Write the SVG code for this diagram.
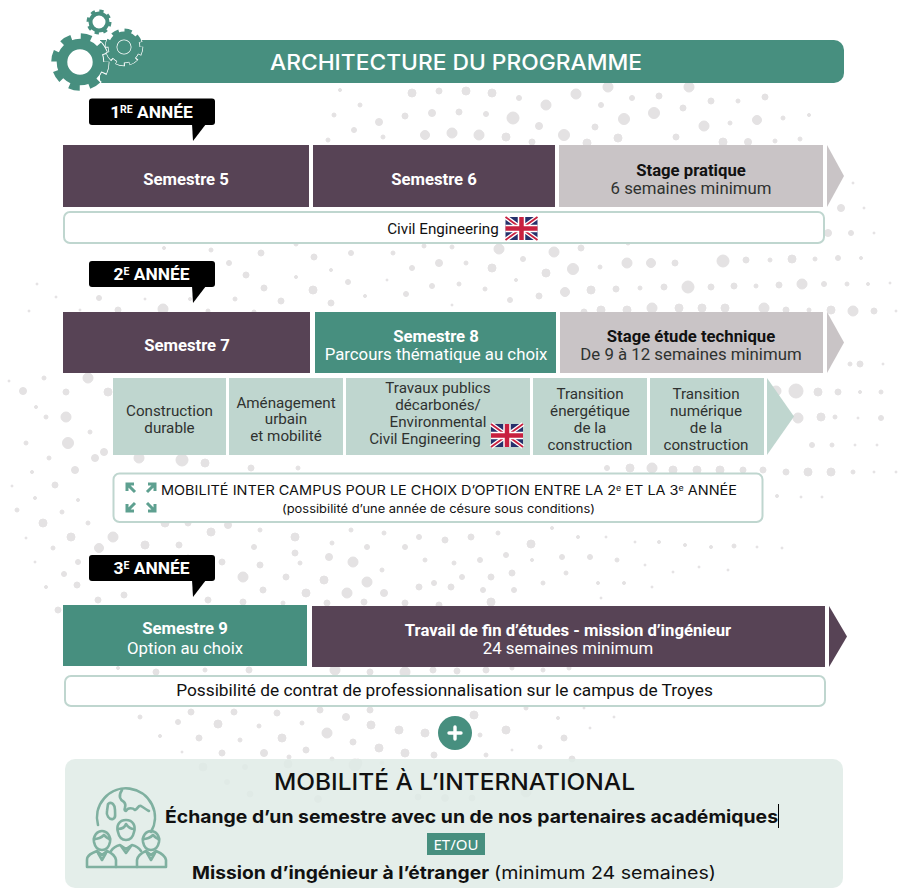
<svg xmlns="http://www.w3.org/2000/svg" xmlns:xlink="http://www.w3.org/1999/xlink" width="906" height="895" viewBox="0 0 906 895">
<style>
text{font-family:Roboto,"Liberation Sans",sans-serif;text-anchor:middle}
.m{font-family:Inter,"Noto Sans","Liberation Sans",sans-serif}
.w{fill:#fff}.k{fill:#111}.d{fill:#2f3230}
.b{font-weight:700}.s15{font-size:16.700px}.s16{font-size:16.800px}.t{font-size:15.200px}.lab{font-size:17.400px}
.pur{fill:#574355}.grn{fill:#478f7f}.gry{fill:#c9c4c6}.tile{fill:#bfd6cf}
.box{fill:#fff;stroke:#bfd6cf;stroke-width:2}
.ic{fill:none;stroke:#5ea090;stroke-width:3}
.gl{fill:none;stroke:#7fb0a0;stroke-width:2.6;stroke-linejoin:round;stroke-linecap:round}
#bg circle{fill:#e4e2e3;stroke:#e4e2e3;stroke-width:1}
</style>
<defs>
<g id="flag">
<rect width="32" height="23" fill="#27306b"/>
<path d="M0 0L32 23M32 0L0 23" stroke="#fff" stroke-width="4.5"/>
<path d="M0 0L32 23M32 0L0 23" stroke="#c8203f" stroke-width="1.8"/>
<path d="M16 0V23M0 11.5H32" stroke="#fff" stroke-width="7.500"/>
<path d="M16 0V23M0 11.5H32" stroke="#c8203f" stroke-width="4.500"/>
</g>
</defs>
<rect width="906" height="895" fill="#fff"/>
<g id="bg">
<circle cx="412" cy="93" r="4"/><circle cx="439" cy="91" r="3"/><circle cx="466" cy="91" r="4"/><circle cx="492" cy="93" r="4"/><circle cx="519" cy="98" r="2.5"/><circle cx="546" cy="105" r="5"/><circle cx="576" cy="94" r="5"/><circle cx="608" cy="87" r="5"/><circle cx="689" cy="87" r="5"/><circle cx="632" cy="98" r="2.5"/><circle cx="601" cy="105" r="2.5"/><circle cx="659" cy="96" r="3"/><circle cx="711" cy="101" r="3"/><circle cx="738" cy="101" r="2"/><circle cx="765" cy="97" r="3"/><circle cx="340" cy="90" r="1.5"/>
<circle cx="360" cy="105" r="2"/><circle cx="334" cy="115" r="2"/><circle cx="379" cy="122" r="3.5"/><circle cx="405" cy="116" r="3"/><circle cx="432" cy="113" r="3.5"/><circle cx="459" cy="112" r="3"/><circle cx="486" cy="114" r="2.5"/><circle cx="513" cy="118" r="6"/><circle cx="539" cy="126" r="3.5"/><circle cx="564" cy="135" r="5.5"/><circle cx="595" cy="127" r="3"/><circle cx="624" cy="119" r="5.5"/><circle cx="654" cy="113" r="5.5"/><circle cx="683" cy="108" r="3"/><circle cx="704" cy="126" r="5"/><circle cx="730" cy="123" r="2"/><circle cx="757" cy="120" r="4.5"/><circle cx="783" cy="118" r="2"/><circle cx="809" cy="115" r="1.5"/>
<circle cx="354" cy="130" r="2.5"/><circle cx="383" cy="137" r="2"/><circle cx="425" cy="135" r="4.5"/><circle cx="452" cy="133" r="5"/><circle cx="479" cy="135" r="5"/><circle cx="506" cy="137" r="4"/><circle cx="532" cy="142" r="3"/><circle cx="618" cy="138" r="4"/><circle cx="587" cy="143" r="4"/><circle cx="676" cy="137" r="3"/><circle cx="723" cy="142" r="4"/><circle cx="748" cy="142" r="3.5"/><circle cx="775" cy="141" r="2"/><circle cx="800" cy="139" r="2"/><circle cx="328" cy="140" r="2"/>
<circle cx="841" cy="208" r="3.5"/><circle cx="864" cy="208" r="1"/><circle cx="828" cy="233" r="3.5"/><circle cx="851" cy="233" r="2.5"/><circle cx="874" cy="233" r="1"/><circle cx="853" cy="183" r="1"/>
<circle cx="164" cy="248" r="1.5"/><circle cx="211" cy="250" r="2"/><circle cx="261" cy="253" r="3"/><circle cx="296" cy="244" r="2"/><circle cx="314" cy="257" r="3"/><circle cx="351" cy="253" r="2.5"/><circle cx="393" cy="253" r="2"/><circle cx="424" cy="246" r="2"/><circle cx="452" cy="247" r="2"/><circle cx="499" cy="249" r="5"/><circle cx="554" cy="252" r="5"/><circle cx="581" cy="248" r="3"/><circle cx="628" cy="243" r="2"/>
<circle cx="229" cy="263" r="2.5"/><circle cx="439" cy="263" r="3.5"/><circle cx="466" cy="263" r="2"/><circle cx="492" cy="268" r="4"/><circle cx="523" cy="259" r="2.5"/><circle cx="546" cy="273" r="4"/><circle cx="573" cy="269" r="5.5"/><circle cx="600" cy="267" r="2"/><circle cx="627" cy="263" r="5"/><circle cx="651" cy="263" r="4.5"/><circle cx="675" cy="263" r="3"/><circle cx="723" cy="261" r="6"/><circle cx="746" cy="260" r="3"/><circle cx="770" cy="260" r="2"/><circle cx="792" cy="259" r="4"/><circle cx="815" cy="259" r="2"/><circle cx="838" cy="258" r="2.5"/><circle cx="861" cy="258" r="1.5"/><circle cx="412" cy="268" r="2.5"/><circle cx="331" cy="270" r="1.5"/>
<circle cx="246" cy="275" r="3"/><circle cx="296" cy="277" r="1.5"/><circle cx="348" cy="282" r="2.5"/><circle cx="387" cy="280" r="1"/><circle cx="432" cy="286" r="2.5"/><circle cx="459" cy="284" r="2"/><circle cx="516" cy="280" r="1.5"/><circle cx="485" cy="289" r="2"/><circle cx="264" cy="288" r="3"/><circle cx="313" cy="290" r="4"/><circle cx="565" cy="292" r="4.5"/><circle cx="591" cy="290" r="4"/><circle cx="616" cy="289" r="3"/><circle cx="640" cy="288" r="2"/><circle cx="664" cy="287" r="3"/><circle cx="688" cy="287" r="6"/><circle cx="711" cy="287" r="3"/><circle cx="734" cy="286" r="3"/><circle cx="756" cy="286" r="2"/><circle cx="779" cy="285" r="3"/><circle cx="802" cy="284" r="5"/><circle cx="824" cy="284" r="2.5"/><circle cx="847" cy="284" r="2"/><circle cx="868" cy="284" r="1.5"/><circle cx="890" cy="283" r="1"/>
<circle cx="37" cy="284" r="1"/><circle cx="99" cy="298" r="2.5"/><circle cx="56" cy="297" r="1"/><circle cx="145" cy="299" r="1"/><circle cx="190" cy="299" r="1.5"/><circle cx="235" cy="299" r="2"/><circle cx="281" cy="301" r="3"/><circle cx="331" cy="303" r="3"/><circle cx="365" cy="296" r="1.5"/><circle cx="406" cy="294" r="2.5"/><circle cx="452" cy="305" r="1"/><circle cx="510" cy="300" r="2.5"/><circle cx="539" cy="296" r="3"/>
<circle cx="29" cy="311" r="1"/><circle cx="80" cy="310" r="1"/><circle cx="118" cy="310" r="3"/><circle cx="163" cy="309" r="5"/><circle cx="208" cy="311" r="2"/><circle cx="254" cy="312" r="2"/><circle cx="584" cy="312" r="3"/><circle cx="601" cy="310" r="4"/><circle cx="627" cy="310" r="4"/><circle cx="652" cy="308" r="5"/><circle cx="679" cy="308" r="4"/><circle cx="702" cy="308" r="4"/><circle cx="725" cy="308" r="4"/><circle cx="764" cy="308" r="5"/><circle cx="786" cy="310" r="3"/><circle cx="809" cy="310" r="2"/><circle cx="831" cy="310" r="4"/><circle cx="853" cy="311" r="5"/><circle cx="874" cy="311" r="3"/><circle cx="896" cy="311" r="1"/>
<circle cx="850" cy="364" r="2"/><circle cx="860" cy="364" r="3"/><circle cx="883" cy="364" r="1"/>
<circle cx="88" cy="378" r="5"/><circle cx="44" cy="378" r="2"/><circle cx="9" cy="381" r="1"/><circle cx="23" cy="391" r="3.5"/><circle cx="66" cy="392" r="3"/><circle cx="108" cy="392" r="4"/><circle cx="36" cy="407" r="1.5"/><circle cx="66" cy="417" r="5"/><circle cx="46" cy="417" r="2"/><circle cx="90" cy="432" r="2"/><circle cx="26" cy="443" r="2"/><circle cx="68" cy="443" r="5.5"/><circle cx="104" cy="452" r="3.5"/><circle cx="49" cy="458" r="2"/><circle cx="95" cy="458" r="3.5"/><circle cx="32" cy="472" r="1.5"/><circle cx="75" cy="470" r="3.5"/><circle cx="12" cy="486" r="1"/><circle cx="55" cy="485" r="3"/><circle cx="35" cy="498" r="1.5"/><circle cx="78" cy="500" r="1.5"/><circle cx="17" cy="510" r="2"/><circle cx="62" cy="512" r="2"/><circle cx="43" cy="523" r="4"/><circle cx="88" cy="523" r="2"/><circle cx="26" cy="538" r="1"/><circle cx="71" cy="537" r="4"/><circle cx="113" cy="537" r="5"/><circle cx="99" cy="548" r="4.5"/><circle cx="53" cy="548" r="2"/><circle cx="145" cy="545" r="4"/><circle cx="35" cy="562" r="1"/><circle cx="78" cy="562" r="2.5"/><circle cx="123" cy="560" r="2"/><circle cx="64" cy="574" r="2.5"/><circle cx="46" cy="587" r="1.5"/><circle cx="77" cy="585" r="3"/><circle cx="124" cy="595" r="3"/><circle cx="98" cy="600" r="3"/>
<circle cx="796" cy="391" r="7"/><circle cx="798" cy="418" r="5"/><circle cx="821" cy="417" r="4"/><circle cx="835" cy="417" r="2"/><circle cx="858" cy="418" r="1"/><circle cx="881" cy="418" r="2.5"/><circle cx="776" cy="391" r="5"/><circle cx="818" cy="392" r="4"/><circle cx="838" cy="392" r="3"/><circle cx="860" cy="392" r="1.5"/><circle cx="881" cy="392" r="2"/><circle cx="812" cy="445" r="2.5"/><circle cx="832" cy="445" r="2"/><circle cx="855" cy="445" r="1"/><circle cx="877" cy="445" r="1"/>
<circle cx="786" cy="472" r="3"/><circle cx="808" cy="472" r="4"/><circle cx="831" cy="472" r="4"/><circle cx="853" cy="472" r="2"/><circle cx="874" cy="472" r="1"/><circle cx="896" cy="472" r="1"/><circle cx="777" cy="496" r="1.5"/><circle cx="801" cy="497" r="1"/><circle cx="822" cy="497" r="1"/>
<circle cx="139" cy="458" r="5"/><circle cx="182" cy="460" r="6"/><circle cx="205" cy="463" r="4"/><circle cx="251" cy="468" r="3"/><circle cx="298" cy="468" r="2"/><circle cx="607" cy="468" r="2.5"/><circle cx="630" cy="468" r="4"/><circle cx="652" cy="468" r="5"/><circle cx="673" cy="470" r="4"/><circle cx="697" cy="470" r="4"/><circle cx="720" cy="470" r="4"/><circle cx="743" cy="470" r="3"/><circle cx="763" cy="470" r="3"/>
<circle cx="228" cy="525" r="3.5"/><circle cx="260" cy="530" r="2"/><circle cx="295" cy="537" r="4"/><circle cx="211" cy="532" r="4"/><circle cx="188" cy="523" r="3"/><circle cx="165" cy="523" r="4"/><circle cx="332" cy="543" r="2"/><circle cx="351" cy="530" r="2"/><circle cx="384" cy="533" r="2"/><circle cx="419" cy="537" r="2.5"/><circle cx="445" cy="540" r="3"/><circle cx="471" cy="537" r="3"/><circle cx="498" cy="533" r="2"/><circle cx="531" cy="544" r="4"/><circle cx="552" cy="528" r="1.5"/><circle cx="578" cy="537" r="1.5"/><circle cx="606" cy="537" r="1"/><circle cx="635" cy="542" r="1"/><circle cx="659" cy="542" r="1.5"/><circle cx="685" cy="545" r="1.5"/><circle cx="711" cy="547" r="1.5"/><circle cx="734" cy="546" r="2"/><circle cx="757" cy="547" r="1"/><circle cx="782" cy="548" r="1"/>
<circle cx="179" cy="545" r="3"/><circle cx="254" cy="547" r="2.5"/><circle cx="295" cy="553" r="3"/><circle cx="329" cy="557" r="3.5"/><circle cx="367" cy="547" r="2.5"/><circle cx="405" cy="547" r="2.5"/><circle cx="260" cy="565" r="3"/><circle cx="222" cy="562" r="3"/><circle cx="188" cy="557" r="2"/><circle cx="300" cy="563" r="2"/><circle cx="353" cy="562" r="5"/><circle cx="382" cy="570" r="2"/><circle cx="425" cy="560" r="2"/><circle cx="454" cy="563" r="2"/><circle cx="480" cy="560" r="2.5"/><circle cx="506" cy="555" r="2.5"/><circle cx="532" cy="560" r="1.5"/><circle cx="562" cy="557" r="2.5"/><circle cx="590" cy="557" r="2.5"/><circle cx="617" cy="560" r="2"/><circle cx="645" cy="565" r="1"/><circle cx="673" cy="572" r="1"/><circle cx="699" cy="567" r="1"/><circle cx="728" cy="570" r="1"/>
<circle cx="243" cy="577" r="5"/><circle cx="286" cy="577" r="3"/><circle cx="324" cy="580" r="4"/><circle cx="367" cy="582" r="5"/><circle cx="434" cy="583" r="2.5"/><circle cx="462" cy="577" r="2.5"/><circle cx="491" cy="577" r="3"/><circle cx="512" cy="573" r="3"/><circle cx="543" cy="583" r="2"/><circle cx="566" cy="573" r="2"/><circle cx="598" cy="583" r="1.5"/><circle cx="624" cy="583" r="1.5"/><circle cx="652" cy="587" r="1"/>
<circle cx="263" cy="590" r="3"/><circle cx="306" cy="593" r="4"/><circle cx="347" cy="593" r="5"/><circle cx="384" cy="593" r="3.5"/><circle cx="419" cy="587" r="3"/><circle cx="451" cy="587" r="3"/><circle cx="483" cy="590" r="2.5"/><circle cx="514" cy="590" r="2.5"/><circle cx="208" cy="600" r="3"/><circle cx="243" cy="602" r="3"/><circle cx="283" cy="603" r="2"/><circle cx="327" cy="603" r="3"/><circle cx="364" cy="602" r="3"/><circle cx="405" cy="603" r="3"/><circle cx="439" cy="605" r="3"/><circle cx="491" cy="602" r="4"/><circle cx="601" cy="598" r="1"/><circle cx="58" cy="610" r="3"/>
<circle cx="118" cy="668" r="1.5"/><circle cx="156" cy="672" r="3"/><circle cx="205" cy="670" r="2"/><circle cx="249" cy="670" r="3"/><circle cx="335" cy="670" r="5"/><circle cx="370" cy="672" r="3"/><circle cx="405" cy="672" r="5"/><circle cx="433" cy="670" r="3"/><circle cx="457" cy="671" r="3"/><circle cx="486" cy="670" r="3"/><circle cx="512" cy="668" r="2"/><circle cx="543" cy="670" r="2"/><circle cx="569" cy="668" r="2"/>
<circle cx="140" cy="717" r="2"/><circle cx="178" cy="722" r="2.5"/><circle cx="218" cy="724" r="4"/><circle cx="259" cy="726" r="2"/><circle cx="302" cy="723" r="2"/><circle cx="346" cy="717" r="3.5"/><circle cx="327" cy="733" r="5"/><circle cx="371" cy="725" r="4"/><circle cx="399" cy="730" r="4"/><circle cx="425" cy="733" r="4"/><circle cx="282" cy="738" r="4"/><circle cx="199" cy="738" r="3"/><circle cx="160" cy="736" r="1.5"/><circle cx="240" cy="740" r="2"/><circle cx="306" cy="750" r="3"/><circle cx="353" cy="742" r="3"/><circle cx="379" cy="748" r="4"/><circle cx="405" cy="753" r="4"/><circle cx="434" cy="755" r="3"/><circle cx="486" cy="755" r="2"/><circle cx="512" cy="750" r="1"/><circle cx="540" cy="747" r="2"/><circle cx="564" cy="738" r="3"/><circle cx="558" cy="718" r="1.5"/><circle cx="590" cy="728" r="1"/><circle cx="614" cy="717" r="1"/><circle cx="506" cy="730" r="4"/><circle cx="480" cy="735" r="2"/><circle cx="222" cy="753" r="3"/><circle cx="264" cy="753" r="3.5"/><circle cx="182" cy="752" r="1"/><circle cx="191" cy="712" r="3"/><circle cx="234" cy="712" r="3"/><circle cx="277" cy="713" r="3"/><circle cx="320" cy="710" r="3"/><circle cx="370" cy="710" r="3"/><circle cx="474" cy="715" r="4"/><circle cx="526" cy="708" r="2"/><circle cx="584" cy="708" r="1"/>
<circle cx="203" cy="767" r="4"/><circle cx="227" cy="782" r="2.5"/><circle cx="250" cy="794" r="3"/><circle cx="245" cy="767" r="2.5"/><circle cx="288" cy="764" r="4"/><circle cx="318" cy="799" r="3.5"/><circle cx="355" cy="765" r="6"/><circle cx="572" cy="759" r="3"/><circle cx="526" cy="792" r="5"/><circle cx="472" cy="798" r="3"/><circle cx="445" cy="798" r="3.5"/><circle cx="418" cy="797" r="3"/><circle cx="332" cy="759" r="2"/><circle cx="358" cy="763" r="4"/><circle cx="382" cy="763" r="2"/><circle cx="289" cy="757" r="2"/>
</g>

<g id="title">
<path d="M100 40H834a10 10 0 0 1 10 10V73a10 10 0 0 1-10 10H100Z" class="grn"/>
<text x="456" y="70" class="m w" font-size="21" font-weight="500" textLength="372" lengthAdjust="spacingAndGlyphs">ARCHITECTURE DU PROGRAMME</text>
</g>
<g id="gears">
<g fill="none">
<circle cx="99" cy="22" r="8.500" stroke="#478f7f" stroke-width="4"/>
<circle cx="99" cy="22" r="10.500" stroke="#478f7f" stroke-width="4" stroke-dasharray="4 4.25"/>
<circle cx="80" cy="62" r="25" stroke="#fff" stroke-width="9" stroke-dasharray="12.500 7.130" stroke-dashoffset="1.200"/>
<circle cx="80" cy="62" r="18" stroke="#fff" stroke-width="12.500"/>
<circle cx="80" cy="62" r="18" stroke="#478f7f" stroke-width="10.600"/>
<circle cx="80" cy="62" r="25.500" stroke="#478f7f" stroke-width="6.500" stroke-dasharray="10.500 9.530"/>
<circle cx="124" cy="47" r="16" stroke="#fff" stroke-width="6.500" stroke-dasharray="8.500 4.070" stroke-dashoffset="1"/>
<circle cx="124" cy="47" r="11.500" stroke="#fff" stroke-width="9.500"/>
<circle cx="124" cy="47" r="11.500" stroke="#478f7f" stroke-width="8"/>
<circle cx="124" cy="47" r="16" stroke="#478f7f" stroke-width="5" stroke-dasharray="7 5.570"/>
</g>
</g>

<g id="connectors">
<path d="M827 145L844 176L827 207Z" class="gry"/>
<path d="M827 312L844 342.500L827 373Z" class="gry"/>
<path d="M767 378L794 416.500L767 455Z" class="tile"/>
<path d="M829 606L847 636.500L829 667Z" class="pur"/>
</g>

<g id="y1">
<rect x="89" y="98.500" width="126" height="26.500" rx="3" fill="#000"/><path d="M192 124L193 141L206 124Z" fill="#000"/>
<text x="151.500" y="118" class="w b lab">1<tspan font-size="10.500" dy="-5">RE</tspan><tspan dy="5"> ANNÉE</tspan></text>
</g>
<g id="s5"><rect x="63" y="145" width="246" height="62" class="pur"/><text x="186" y="185" class="w b s15">Semestre 5</text></g>
<g id="s6"><rect x="313" y="145" width="242" height="62" class="pur"/><text x="434" y="185" class="w b s15">Semestre 6</text></g>
<g id="stage1"><rect x="559" y="145" width="264" height="62" class="gry"/><text x="691" y="176" class="k b s15">Stage pratique</text><text x="691" y="194" class="d s16">6 semaines minimum</text></g>
<g id="civil"><rect x="64" y="212" width="760" height="31" rx="6" class="box"/><text x="443" y="234" class="k t">Civil Engineering</text><use xlink:href="#flag" href="#flag" transform="translate(505.500 217)"/></g>

<g id="y2">
<rect x="89" y="261" width="126" height="26" rx="3" fill="#000"/><path d="M192 286L193 303L206 286Z" fill="#000"/>
<text x="151.500" y="280" class="w b lab">2<tspan font-size="10.500" dy="-5">E</tspan><tspan dy="5"> ANNÉE</tspan></text>
</g>
<g id="s7"><rect x="63" y="312" width="247" height="61" class="pur"/><text x="187" y="351" class="w b s15">Semestre 7</text></g>
<g id="s8"><rect x="315" y="312" width="241" height="61" class="grn"/><text x="436" y="342" class="w b s15">Semestre 8</text><text x="436" y="360" class="w s16">Parcours thématique au choix</text></g>
<g id="stage2"><rect x="560" y="312" width="263" height="61" class="gry"/><text x="691" y="342" class="k b s15">Stage étude technique</text><text x="691" y="360" class="d s16">De 9 à 12 semaines minimum</text></g>

<g id="opt1"><rect x="113" y="378" width="113" height="77" class="tile"/><text x="169.500" y="416" class="d t">Construction</text><text x="169.500" y="433" class="d t">durable</text></g>
<g id="opt2"><rect x="229" y="378" width="114" height="77" class="tile"/><text x="286" y="408" class="d t">Aménagement</text><text x="286" y="424" class="d t">urbain</text><text x="286" y="441" class="d t">et mobilité</text></g>
<g id="opt3"><rect x="346" y="378" width="184" height="77" class="tile"/><text x="438" y="393" class="d t">Travaux publics</text><text x="438" y="410" class="d t">décarbonés/</text><text x="438" y="427" class="d t">Environmental</text><text x="425" y="444" class="d t">Civil Engineering</text><use xlink:href="#flag" href="#flag" transform="translate(491 424)"/></g>
<g id="opt4"><rect x="533" y="378" width="114" height="77" class="tile"/><text x="590" y="399" class="d t">Transition</text><text x="590" y="416" class="d t">énergétique</text><text x="590" y="433" class="d t">de la</text><text x="590" y="450" class="d t">construction</text></g>
<g id="opt5"><rect x="650" y="378" width="114" height="77" class="tile"/><text x="706" y="399" class="d t">Transition</text><text x="706" y="416" class="d t">numérique</text><text x="706" y="433" class="d t">de la</text><text x="706" y="450" class="d t">construction</text></g>

<g id="inter">
<rect x="113.500" y="473.500" width="649" height="48.500" rx="6" class="box"/>
<path d="M127 491V484H134M128 485L135 492M155 491V484H148M154 485L147 492M127 504V511H134M128 510L135 503M155 504V511H148M154 510L147 503" class="ic"/>
<text x="449" y="495" class="m k" font-size="13" textLength="576" lengthAdjust="spacingAndGlyphs">MOBILITÉ INTER CAMPUS POUR LE CHOIX D’OPTION ENTRE LA 2<tspan font-size="8" dy="-4">e</tspan><tspan dy="4"> ET LA 3</tspan><tspan font-size="8" dy="-4">e</tspan><tspan dy="4"> ANNÉE</tspan></text>
<text x="438.500" y="512.500" class="m k" font-size="11.500" textLength="313" lengthAdjust="spacingAndGlyphs">(possibilité d’une année de césure sous conditions)</text>
</g>

<g id="y3">
<rect x="89" y="555" width="126" height="26" rx="3" fill="#000"/><path d="M192 580L193 597L206 580Z" fill="#000"/>
<text x="151.500" y="574" class="w b lab">3<tspan font-size="10.500" dy="-5">E</tspan><tspan dy="5"> ANNÉE</tspan></text>
</g>
<g id="s9"><rect x="63" y="605" width="244" height="61" class="grn"/><text x="185" y="634" class="w b s15">Semestre 9</text><text x="185" y="654" class="w s16">Option au choix</text></g>
<g id="tfe"><rect x="312" y="606" width="513" height="61" class="pur"/><text x="568" y="636" class="w b s15">Travail de fin d’études - mission d’ingénieur</text><text x="568" y="654" class="w s16">24 semaines minimum</text></g>
<g id="contrat"><rect x="65" y="676" width="760" height="30" rx="6" class="box"/><text x="444.500" y="696" class="k" font-size="17.300">Possibilité de contrat de professionnalisation sur le campus de Troyes</text></g>
<g id="plus"><circle cx="455" cy="733" r="17" class="grn"/><path d="M449 733H461M455 727V739" stroke="#fff" stroke-width="3.400" fill="none" stroke-linecap="round"/></g>

<g id="intl">
<rect x="65" y="759" width="778" height="129" rx="10" fill="#e0ebe7" fill-opacity=".86"/>
<text x="454.500" y="790" class="m k" font-size="23" font-weight="500" textLength="361" lengthAdjust="spacingAndGlyphs">MOBILITÉ À L’INTERNATIONAL</text>
<text x="471.500" y="823" class="m k" font-size="18" font-weight="700" textLength="613" lengthAdjust="spacingAndGlyphs">Échange d’un semestre avec un de nos partenaires académiques</text>
<rect x="778" y="804" width="1" height="24" fill="#000"/>
<rect x="427" y="833" width="58" height="22" class="grn"/>
<text x="456" y="849.500" class="w" style="font-family:'Noto Sans',sans-serif" font-size="15">ET/OU</text>
<text x="340.500" y="879" class="m k" font-size="17.500" font-weight="700" textLength="297" lengthAdjust="spacingAndGlyphs">Mission d’ingénieur à l’étranger</text>
<text x="605" y="879" class="m k" font-size="17.500" textLength="222" lengthAdjust="spacingAndGlyphs">(minimum 24 semaines)</text>
<g class="gl">
<path d="M98 825A29 29 0 1 1 151 832"/>
<path d="M108 804C112 801 115 805 115 810C115 815 116 818 113 819C109 820 106 815 107 811Z"/>
<path d="M122 790C118 796 120 800 124 802C128 806 122 810 126 811C128 807 133 808 135 810C138 809 138 805 141 806C144 808 147 810 149 811"/>
<path d="M118 832C116 826 119 820 126 820C133 820 136 826 134 832C133 837 130 840 126 840C122 840 119 837 118 832Z"/>
<path d="M118 829C122 829 125 827 126 824C128 827 131 829 134 829"/>
<path d="M94 842C93 836 97 831 102 831C107 831 111 836 110 842C109 847 106 850 102 850C98 850 95 847 94 842Z"/>
<path d="M94 839C99 839 102 837 104 835C106 837 108 839 110 839"/>
<path d="M143 842C142 836 146 831 151 831C156 831 160 836 159 842C158 847 155 850 151 850C147 850 144 847 143 842Z"/>
<path d="M143 839C148 839 151 837 153 835C155 837 157 839 159 839"/>
<path d="M87 867V860C87 855 92 853 97 851L102 855L107 851C112 853 115 855 116 860V867Z"/>
<path d="M137 867V860C138 855 141 853 146 851L151 855L156 851C161 853 165 855 166 860V867Z"/>
<path d="M111 851C113 848 116 846 120 845L126 849L132 845C136 846 139 848 141 851"/>
<path d="M98 853L102 860L106 853M147 853L151 860L155 853M121 846L126 853L131 846M116 867H137"/>
</g>
</g>
</svg>
